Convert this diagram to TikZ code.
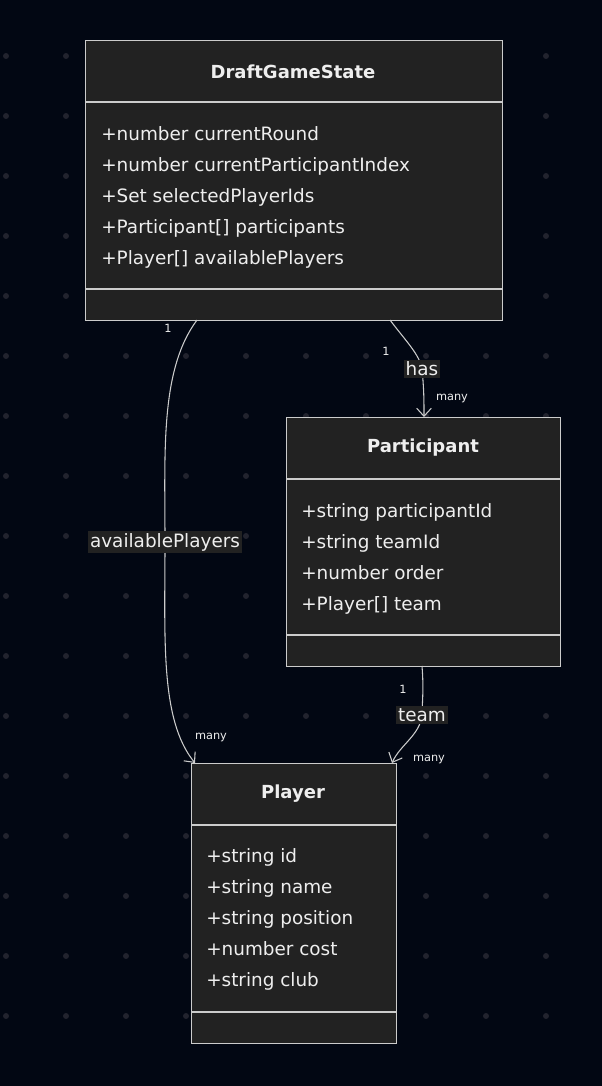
\documentclass[tikz,border=0pt]{standalone}
\usepackage{fontspec}
\setmainfont{DejaVu Sans}
\usetikzlibrary{arrows.meta}
\definecolor{bgcol}{HTML}{020713}
\definecolor{dotcol}{HTML}{22232E}
\definecolor{boxcol}{HTML}{222222}
\definecolor{edgecol}{HTML}{CCCCCC}
\definecolor{txtcol}{HTML}{EEEEEE}
\tikzset{
  umlbox/.style={draw=edgecol, fill=boxcol, line width=0.9pt, inner sep=0pt, anchor=north west},
  title/.style={text=txtcol, font=\bfseries\fontsize{13.5}{15}\selectfont},
  member/.style={text=txtcol, anchor=base west, inner sep=0pt, font=\fontsize{13.8}{15}\selectfont},
  elabel/.style={fill=boxcol, text=txtcol, inner sep=1.5pt, font=\fontsize{13.8}{15}\selectfont},
  mult/.style={text=txtcol, font=\fontsize{8.5}{9}\selectfont},
  assoc/.style={draw=edgecol, line width=0.8pt, -{Straight Barb[length=6pt,width=11pt]}}
}
\begin{document}
\begin{tikzpicture}[x=0.75pt, y=-0.75pt]
  \fill[bgcol] (0,0) rectangle (602,1086);
  \useasboundingbox (0,0) rectangle (602,1086);
  % background dots
  \foreach \i in {0,...,10}
    \foreach \j in {0,...,17}
      \fill[dotcol] (6+60*\i, -4+60*\j) circle (3);

  % DraftGameState
  \node[umlbox, minimum width=417*0.75pt, minimum height=280*0.75pt] (state) at (85,40) {};
  \draw[edgecol, line width=0.9pt] (85,102) -- (502,102) (85,289) -- (502,289);
  \node[title] (stateT) at (293,72) {DraftGameState};
  \foreach \t [count=\k] in {+number currentRound, +number currentParticipantIndex, +Set selectedPlayerIds, +Participant[] participants, +Player[] availablePlayers}
    \node[member] (stateM\k) at (101, 109+31*\k) {\t};

  % Participant
  \node[umlbox, minimum width=274*0.75pt, minimum height=249*0.75pt] (part) at (286,417) {};
  \draw[edgecol, line width=0.9pt] (286,479) -- (560,479) (286,635) -- (560,635);
  \node[title] (partT) at (423,448) {Participant};
  \foreach \t [count=\k] in {+string participantId, +string teamId, +number order, +Player[] team}
    \node[member] (partM\k) at (301, 486+31*\k) {\t};

  % Player
  \node[umlbox, minimum width=205*0.75pt, minimum height=280*0.75pt] (player) at (191,763) {};
  \draw[edgecol, line width=0.9pt] (191,825) -- (396,825) (191,1012) -- (396,1012);
  \node[title] (playerT) at (293,794) {Player};
  \foreach \t [count=\k] in {+string id, +string name, +string position, +number cost, +string club}
    \node[member] (playerM\k) at (206, 831+31*\k) {\t};

  % connectors
  \coordinate (s1) at (197,320);
  \coordinate (s2) at (390,320);
  \coordinate (p1) at (424,417);
  \coordinate (p2) at (422,666);
  \coordinate (q1) at (195,763);
  \coordinate (q2) at (392,763);
  \node[elabel] (lAvail) at (165,542) {availablePlayers};
  \node[elabel] (lHas) at (422,369) {has};
  \node[elabel] (lTeam) at (422,715) {team};
  \draw[assoc] (s1) .. controls (160,370) and (165,450) .. (lAvail.center)
    .. controls (165,640) and (160,720) .. (q1);
  \draw[assoc] (s2) .. controls (405,340) and (420,355) .. (lHas.center)
    .. controls (424,390) and (424,400) .. (p1);
  \draw[assoc] (p2) .. controls (424,690) and (422,705) .. (lTeam.center)
    .. controls (420,735) and (400,745) .. (q2);
  \node[elabel] at (lAvail) {availablePlayers};
  \node[elabel] at (lHas) {has};
  \node[elabel] at (lTeam) {team};

  % multiplicities
  \node[mult] (m1) at (168,328) {1};
  \node[mult] (m2) at (211,737) {many};
  \node[mult] (m3) at (386,351) {1};
  \node[mult] (m4) at (452,398) {many};
  \node[mult] (m5) at (403,689) {1};
  \node[mult] (m6) at (429,759) {many};
\end{tikzpicture}
\end{document}
